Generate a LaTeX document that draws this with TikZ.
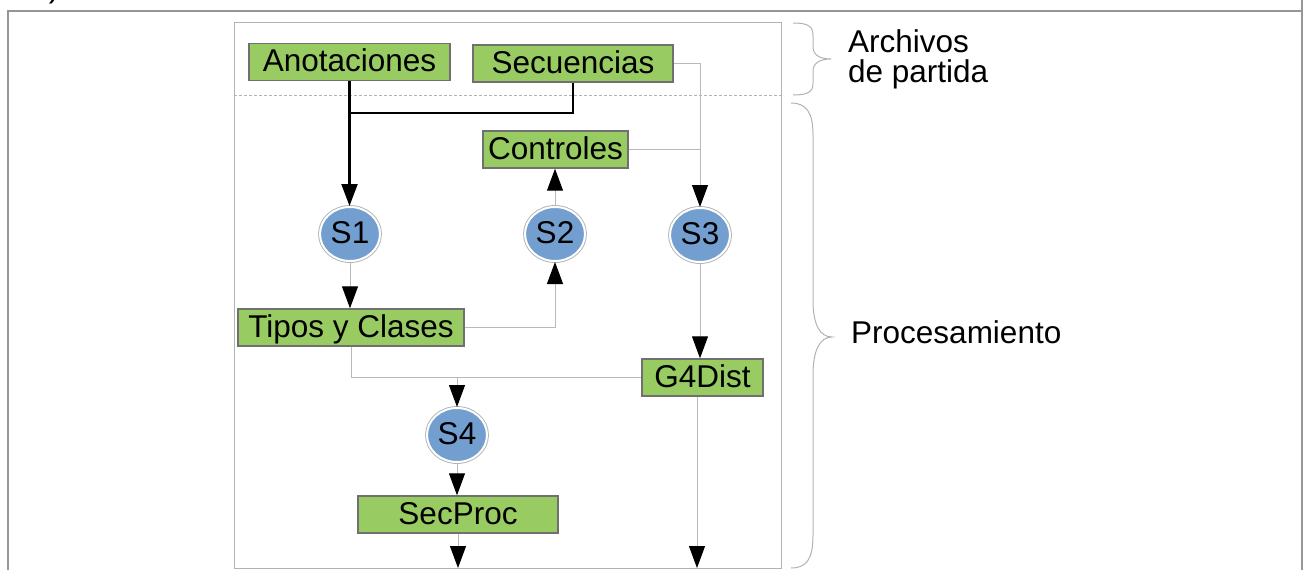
\documentclass[tikz,border=0pt]{standalone}
\usepackage{fontspec}
\setmainfont{Liberation Sans}
\usetikzlibrary{arrows.meta,shapes.geometric}
\definecolor{boxgreen}{RGB}{152,204,98}
\definecolor{boxedge}{RGB}{112,112,112}
\definecolor{ballblue}{RGB}{114,159,207}
\definecolor{wire}{RGB}{185,185,185}
\definecolor{framegray}{RGB}{150,150,150}
\definecolor{panelgray}{RGB}{178,178,178}

\begin{document}
\begin{tikzpicture}[x=1pt,y=-1pt,
  lbl/.style={font=\fontsize{31.5}{30}\selectfont, inner sep=0pt},
  filebox/.style={lbl, rectangle, fill=boxgreen, draw=boxedge, line width=1.4pt,
    minimum height=37pt, text height=22pt, text depth=3pt},
  stage/.style={lbl, ellipse, fill=ballblue, draw=white, line width=2pt,
    minimum width=60pt, minimum height=54pt, text height=22pt, text depth=3pt,
    preaction={draw=gray!60, line width=3.8pt}},
  headed/.style={-{Triangle[width=16pt,length=22pt,color=black]}},
  wireline/.style={draw=wire, line width=1pt},
  feed/.style={draw=black, line width=2.2pt},
  brace/.style={draw=panelgray, line width=1pt},
  side/.style={lbl, anchor=base west},
]
\useasboundingbox (0,0) rectangle (1306,570);

% outer table rules
\draw[framegray, line width=1.6pt] (8,570) -- (8,11) -- (1302,11);
\draw[framegray, line width=1.6pt] (1302,0) -- (1302,570);
\node[lbl, anchor=base east] (tag) at (59.5,-2.5) {a)};

% panel with the split between inputs and processing
\draw[panelgray, line width=1pt] (234,22) rectangle (781,568);
\draw[panelgray, line width=0.8pt, dash pattern=on 3pt off 2pt] (234,95) -- (781,95);

% input files and intermediate results
\node[filebox, minimum width=201pt] (an)  at (349.5,62)  {Anotaciones};
\node[filebox, minimum width=200pt] (sec) at (573,63.5)  {Secuencias};
\node[filebox, minimum width=145pt] (ctrl) at (555.5,149.5) {Controles};
\node[filebox, minimum width=226pt] (tip) at (351,327.5) {Tipos y Clases};
\node[filebox, minimum width=121pt] (g4)  at (702.5,377.5) {G4Dist};
\node[filebox, minimum width=200pt] (sp)  at (458,514.5) {SecProc};

% processing steps
\node[stage] (S1) at (350,234) {S1};
\node[stage] (S2) at (555,234) {S2};
\node[stage] (S3) at (700,235) {S3};
\node[stage] (S4) at (457,435) {S4};

% free ends at the bottom edge and the merge point
\coordinate (o1) at (458,568);
\coordinate (o2) at (697,568);
\coordinate (j1) at (349.5,113);

% inputs feeding S1
\draw[feed] (sec.south) |- (j1);
\draw[feed, headed] (an.south) -- (an.south |- S1.north);

% remaining flow
\draw[wireline, headed] (S1.south) -- (S1.south |- tip.north);
\draw[wireline, headed] (tip.east) -| (S2.south);
\draw[wireline, headed] (S2.north) -- (S2.north |- ctrl.south);
\draw[wireline, headed] (sec.east) -| (S3.north);
\draw[wireline] (ctrl.east) -- (ctrl.east -| S3.north);
\draw[wireline, headed] (S3.south) -- (S3.south |- g4.north);
\draw[wireline] (tip.south) |- (g4.west);
\draw[wireline, headed] (S4.north |- g4.west) -- (S4.north);
\draw[wireline, headed] (S4.south) -- (S4.south |- sp.north);
\draw[wireline, headed] (sp.south) -- (o1);
\draw[wireline, headed] (o2 |- g4.south) -- (o2);

% braces and their labels
\draw[brace] (793,23) .. controls (808,23) and (813,26) .. (813,36) -- (813,47)
  .. controls (813,55) and (820,59) .. (831,59)
  .. controls (820,59) and (813,63) .. (813,71) -- (813,83)
  .. controls (813,92) and (808,95) .. (793,95);
\draw[brace] (791,103) .. controls (806,103) and (813,112) .. (813,135) -- (813,300)
  .. controls (813,325) and (820,337) .. (832,337)
  .. controls (820,337) and (813,350) .. (813,375) -- (813,535)
  .. controls (813,560) and (806,568) .. (791,568);

\node[side] (arch1) at (848,52) {Archivos};
\node[side] (arch2) at (848,82) {de partida};
\node[side] (proc) at (851,343) {Procesamiento};
\end{tikzpicture}
\end{document}
